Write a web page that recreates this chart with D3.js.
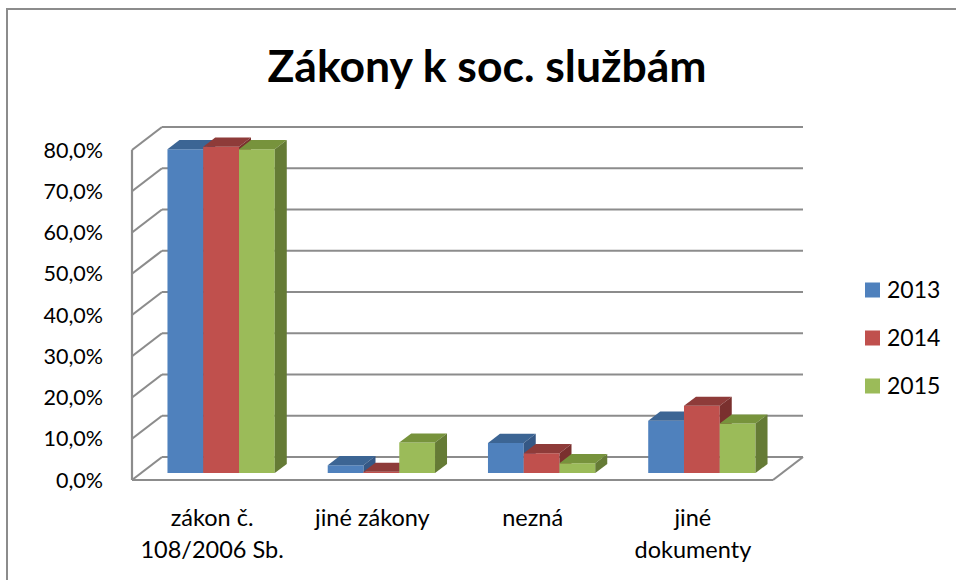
<!DOCTYPE html>
<html lang="cs">
  <head>
    <meta charset="utf-8">
    <script type="text/javascript" src="https://cdn.jsdelivr.net/npm/d3@7"></script>
    <style media="screen">
      body { margin: 0; background: white; }
      svg text { font-family: Lato, "Open Sans", sans-serif; fill: #000; }
      g.grid line { stroke: #8c8c8c; stroke-width: 2.2; }
    </style>
    <title>Zákony k soc. službám</title>
  </head>
  <body>
    <script type="text/javascript">
      var width = 956;
      var height = 580;

      var categories = ["zákon č.\n108/2006 Sb.", "jiné zákony", "nezná", "jiné\ndokumenty"];
      var years = ["2013", "2014", "2015"];
      var values2013 = [78.5, 1.9, 7.3, 12.7];
      var values2014 = [79.1, 0.3, 4.8, 16.3];
      var values2015 = [78.5, 7.4, 2.4, 12.0];
      var yTicks = [0, 10, 20, 30, 40, 50, 60, 70, 80];

      var series = [values2013, values2014, values2015];
      var front = ["#4f81bd", "#c0504d", "#9bbb59"];
      var tops = ["#3c6594", "#8e3b39", "#77933c"];
      var sides = ["#355885", "#7a302e", "#657b35"];

      // oblique depth of the whole plot box
      var depthX = 30, depthY = -23;
      // bars fill the middle part of the depth
      var barFront = 0.3, barBack = 0.7;

      var x = d3.scaleBand().domain(d3.range(categories.length)).range([132, 773]);
      var xs = d3.scaleBand().domain(d3.range(years.length)).range([0, x.bandwidth()])
        .paddingInner(0).paddingOuter(0.74);
      var y = d3.scaleLinear().domain([0, 80]).range([480, 150]);

      var svg = d3.select("body").append("svg").attr("width", width).attr("height", height);

      // chart frame
      svg.append("rect")
        .attr("x", 7).attr("y", 9).attr("width", 960).attr("height", 600)
        .attr("fill", "none").attr("stroke", "#8c8c8c").attr("stroke-width", 2);

      svg.append("text")
        .attr("x", 487).attr("y", 82)
        .attr("text-anchor", "middle")
        .style("font-size", "44.5px").style("font-weight", "bold")
        .text("Zákony k soc. službám");

      var x0 = x.range()[0], x1 = x.range()[1];
      var grid = svg.append("g").attr("class", "grid");

      // back wall lines
      grid.selectAll("line.back").data(yTicks).enter().append("line")
        .attr("x1", x0 + depthX).attr("x2", x1 + depthX)
        .attr("y1", function(d){ return y(d) + depthY; })
        .attr("y2", function(d){ return y(d) + depthY; });

      // side wall lines
      grid.selectAll("line.side").data(yTicks).enter().append("line")
        .attr("x1", x0).attr("x2", x0 + depthX)
        .attr("y1", function(d){ return y(d); })
        .attr("y2", function(d){ return y(d) + depthY; });

      grid.append("line").attr("x1", x0).attr("x2", x0).attr("y1", y(0)).attr("y2", y(80));
      grid.append("line").attr("x1", x0).attr("x2", x1).attr("y1", y(0)).attr("y2", y(0));
      grid.append("line").attr("x1", x1).attr("x2", x1 + depthX).attr("y1", y(0)).attr("y2", y(0) + depthY);

      // bars
      var fx = depthX * barFront, fy = depthY * barFront;
      var bx = depthX * (barBack - barFront), by = depthY * (barBack - barFront);
      var bars = [];
      categories.forEach(function(c, i){
        series.forEach(function(s, j){
          bars.push({cat: i, ser: j, value: s[i]});
        });
      });

      var g = svg.append("g").attr("class", "bars")
        .selectAll("g").data(bars).enter().append("g");

      g.each(function(d){
        var left = x(d.cat) + xs(d.ser) + fx;
        var right = left + xs.bandwidth();
        var top = y(d.value) + fy;
        var bottom = y(0) + fy;
        var el = d3.select(this);
        el.append("path")
          .attr("d", "M" + [[left, top], [right, top], [right, bottom], [left, bottom]].join("L") + "Z")
          .attr("fill", front[d.ser]);
        el.append("path")
          .attr("d", "M" + [[left, top], [left + bx, top + by], [right + bx, top + by], [right, top]].join("L") + "Z")
          .attr("fill", tops[d.ser]);
        el.append("path")
          .attr("d", "M" + [[right, top], [right + bx, top + by], [right + bx, bottom + by], [right, bottom]].join("L") + "Z")
          .attr("fill", sides[d.ser]);
      });

      // y axis labels
      svg.append("g").selectAll("text").data(yTicks).enter().append("text")
        .attr("x", 103)
        .attr("y", function(d){ return y(d); })
        .attr("dy", "0.36em")
        .attr("text-anchor", "end")
        .style("font-size", "21.5px")
        .text(function(d){ return d.toFixed(1).replace(".", ",") + "%"; });

      // category labels
      var cl = svg.append("g").selectAll("text").data(categories).enter().append("text")
        .attr("text-anchor", "middle")
        .style("font-size", "23.5px");
      cl.each(function(d, i){
        var t = d3.select(this);
        d.split("\n").forEach(function(line, k){
          t.append("tspan")
            .attr("x", x(i) + x.bandwidth() / 2)
            .attr("y", 526 + k * 32)
            .text(line);
        });
      });

      // legend
      var legend = svg.append("g").selectAll("g").data(years).enter().append("g")
        .attr("transform", function(d, i){ return "translate(865," + (290 + i * 48) + ")"; });
      legend.append("rect")
        .attr("x", 0).attr("y", -7.5).attr("width", 15).attr("height", 15)
        .attr("fill", function(d, i){ return front[i]; });
      legend.append("text")
        .attr("x", 22).attr("dy", "0.36em")
        .style("font-size", "23px")
        .text(function(d){ return d; });
    </script>
  </body>
</html>
